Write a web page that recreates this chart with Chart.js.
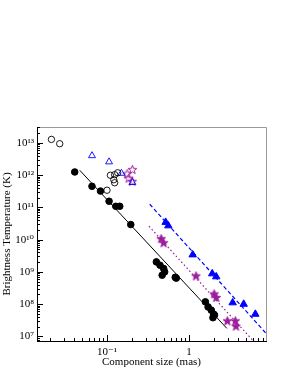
<!DOCTYPE html>
<html><head><meta charset="utf-8">
<script src="https://cdn.jsdelivr.net/npm/chart.js@4/dist/chart.umd.min.js"></script>
<style>html,body{margin:0;padding:0;background:#fff;} #wrap{width:289px;height:374px;position:relative;}</style>
</head><body><div id="wrap"><canvas id="c"></canvas></div>
<script>
// ---- data ----
const openCircleX = [0.021, 0.0265, 0.100, 0.110, 0.121, 0.124, 0.124, 0.135];
const openCircleY = [1.28e13, 9.4e12, 3.4e11, 9.9e11, 7.2e11, 5.8e11, 1.03e12, 1.18e12];
const openTriangleX = [0.0656, 0.106, 0.150, 0.204];
const openTriangleY = [4.0e12, 2.58e12, 1.14e12, 5.9e11];
const openStarX = [0.204, 0.176, 0.184, 0.203];
const openStarY = [1.48e12, 1.10e12, 8.0e11, 6.4e11];
const filledCircleX = [0.0404, 0.0656, 0.0833, 0.106, 0.128, 0.143, 0.195, 0.40, 0.443, 0.491, 0.505, 0.471, 0.680, 0.700, 1.585, 1.71, 1.87, 2.0, 1.96, 2.05];
const filledCircleY = [1.25e12, 4.5e11, 3.2e11, 1.55e11, 1.08e11, 1.08e11, 2.93e10, 2.04e9, 1.61e9, 1.27e9, 1.0e9, 7.9e8, 6.8e8, 6.4e8, 1.18e8, 8.2e7, 6.5e7, 4.9e7, 3.8e7, 4.6e7];
const filledTriangleX = [0.52, 0.56, 1.11, 1.92, 2.15, 3.41, 4.65, 6.45];
const filledTriangleY = [3.46e10, 2.7e10, 3.4e9, 8.8e8, 7.1e8, 1.11e8, 1.0e8, 4.9e7];
const filledStarX = [0.458, 0.491, 1.22, 2.03, 2.15, 2.94, 3.68, 3.74];
const filledStarY = [1.07e10, 8.0e9, 7.5e8, 2.08e8, 1.61e8, 3.04e7, 3.04e7, 2.08e7];
const fitSolidX = [0.0465, 2.9];
const fitSolidY = [1.41e12, 1.77e7];
const fitDashedX = [0.332, 8.7];
const fitDashedY = [1.25e11, 1.25e7];
const fitDottedX = [0.325, 6.1];
const fitDottedY = [2.6e10, 7.2e6];

// ---- axes ----
const xMin = 0.014, xMax = 8.7;
const yMin = 7.2e6, yMax = 3.1e13;
const xTickLabelValues = [0.1, 1];
const xTickLabels = ['10\u207B\u00B9', '1'];
const yTickLabelValues = [1e7, 1e8, 1e9, 1e10, 1e11, 1e12, 1e13];
const yTickLabels = ['10\u2077', '10\u2078', '10\u2079', '10\u00B9\u2070', '10\u00B9\u00B9', '10\u00B9\u00B2', '10\u00B9\u00B3'];
const xTitle = 'Component size (mas)';
const yTitle = 'Brightness Temperature (K)';

function logTicks(lo, hi) {
  const out = [];
  for (let e = Math.floor(Math.log10(lo)); e <= Math.ceil(Math.log10(hi)); e++) {
    for (let m = 1; m <= 9; m++) {
      const v = m * Math.pow(10, e);
      if (v >= lo && v <= hi) out.push(v);
    }
  }
  return out;
}
const xTickValues = logTicks(xMin, xMax);
const yTickValues = logTicks(yMin, yMax);
const isMajor = v => Math.abs(Math.log10(v) - Math.round(Math.log10(v))) < 1e-9;
function labelFor(v, vals, labels) {
  for (let i = 0; i < vals.length; i++) if (Math.abs(Math.log10(v) - Math.log10(vals[i])) < 1e-9) return labels[i];
  return '';
}
const pts = (xs, ys) => xs.map((x, i) => ({x, y: ys[i]}));

const BLUE = '#0000ff', PURPLE = '#9c1c9c', BLACK = '#000000';
function starImage(fill, stroke) {
  const c = document.createElement('canvas');
  c.width = 11; c.height = 11;
  const g = c.getContext('2d');
  const cx = 5.5, cy = 5.8, ro = 4.6, ri = 1.9;
  g.beginPath();
  for (let k = 0; k < 10; k++) {
    const r = k % 2 ? ri : ro;
    const a = -Math.PI / 2 + k * Math.PI / 5;
    const px = cx + r * Math.cos(a), py = cy + r * Math.sin(a);
    k ? g.lineTo(px, py) : g.moveTo(px, py);
  }
  g.closePath();
  if (fill) { g.fillStyle = fill; g.fill(); }
  g.lineWidth = 1; g.strokeStyle = stroke; g.stroke();
  return c;
}
const openStar = starImage(null, PURPLE);
const filledStar = starImage(PURPLE, PURPLE);

const serif = {family: "'Liberation Serif', 'DejaVu Serif', serif", size: 11};

const insideTicks = {
  id: 'insideTicks',
  afterDraw(chart) {
    const {ctx, chartArea: a, scales: {x, y}} = chart;
    ctx.save();
    ctx.lineWidth = 1;
    ctx.strokeStyle = '#999';
    ctx.beginPath();
    ctx.moveTo(a.left, a.top + 0.5); ctx.lineTo(a.right + 0.5, a.top + 0.5); ctx.lineTo(a.right + 0.5, a.bottom);
    ctx.stroke();
    ctx.strokeStyle = '#000';
    x.ticks.forEach(t => {
      const p = Math.round(x.getPixelForValue(t.value)) + 0.5;
      const len = isMajor(t.value) ? 6 : 3;
      ctx.beginPath(); ctx.moveTo(p, a.bottom); ctx.lineTo(p, a.bottom - len); ctx.stroke();
    });
    y.ticks.forEach(t => {
      const p = Math.round(y.getPixelForValue(t.value)) + 0.5;
      const len = isMajor(t.value) ? 6 : 3;
      ctx.beginPath(); ctx.moveTo(a.left, p); ctx.lineTo(a.left + len, p); ctx.stroke();
    });
    ctx.restore();
  }
};

new Chart(document.getElementById('c'), {
  type: 'scatter',
  data: {
    datasets: [
      {data: pts(filledCircleX, filledCircleY), pointStyle: 'circle', pointRadius: 3.3, backgroundColor: BLACK, borderColor: BLACK, borderWidth: 1},
      {data: pts(filledTriangleX, filledTriangleY), pointStyle: 'triangle', pointRadius: 4.3, backgroundColor: BLUE, borderColor: BLUE, borderWidth: 1},
      {data: pts(filledStarX, filledStarY), pointStyle: filledStar},
      {data: pts(openCircleX, openCircleY), pointStyle: 'circle', pointRadius: 3.2, backgroundColor: 'rgba(0,0,0,0)', borderColor: BLACK, borderWidth: 0.9},
      {data: pts(openTriangleX, openTriangleY), pointStyle: 'triangle', pointRadius: 4, backgroundColor: 'rgba(0,0,0,0)', borderColor: BLUE, borderWidth: 0.9},
      {data: pts(openStarX, openStarY), pointStyle: openStar},
      {data: pts(fitSolidX, fitSolidY), showLine: true, pointRadius: 0, borderColor: BLACK, borderWidth: 1},
      {data: pts(fitDashedX, fitDashedY), showLine: true, pointRadius: 0, borderColor: BLUE, borderWidth: 1.2, borderDash: [4, 2.5]},
      {data: pts(fitDottedX, fitDottedY), showLine: true, pointRadius: 0, borderColor: PURPLE, borderWidth: 1.2, borderDash: [1.5, 2.5]}
    ]
  },
  options: {
    responsive: true,
    maintainAspectRatio: false,
    animation: false,
    events: [],
    layout: {padding: {left: 0, top: 127, right: 23, bottom: 0}},
    plugins: {legend: {display: false}, tooltip: {enabled: false}},
    scales: {
      x: {
        type: 'logarithmic', min: xMin, max: xMax,
        afterBuildTicks: s => { s.ticks = xTickValues.map(v => ({value: v})); },
        afterFit: s => { s.height = 33; },
        grid: {display: false, drawTicks: false},
        border: {display: true, color: '#000', width: 1},
        ticks: {autoSkip: false, maxRotation: 0, padding: 5, color: '#000', font: serif,
          callback: v => labelFor(v, xTickLabelValues, xTickLabels)},
        title: {display: true, text: xTitle, color: '#000', font: serif, padding: {top: 0, bottom: 5}}
      },
      y: {
        type: 'logarithmic', min: yMin, max: yMax,
        afterBuildTicks: s => { s.ticks = yTickValues.map(v => ({value: v})); },
        afterFit: s => { s.width = 37; },
        grid: {display: false, drawTicks: false},
        border: {display: true, color: '#000', width: 1},
        ticks: {autoSkip: false, padding: 3, color: '#000', font: serif,
          callback: v => labelFor(v, yTickLabelValues, yTickLabels)},
        title: {display: true, text: yTitle, color: '#000', font: serif, padding: {top: 1, bottom: 0}}
      }
    }
  },
  plugins: [insideTicks]
});
</script>
</body></html>
